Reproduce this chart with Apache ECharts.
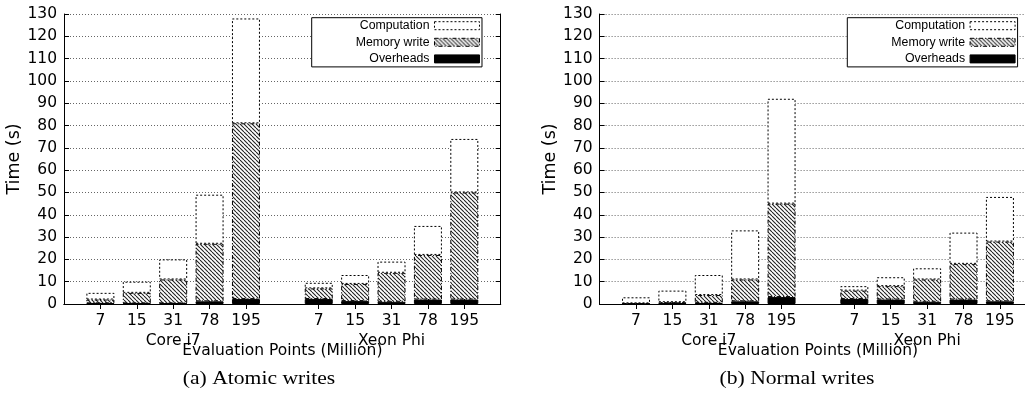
<!DOCTYPE html>
<html><head><meta charset="utf-8">
<script src="https://cdn.jsdelivr.net/npm/echarts@6/dist/echarts.min.js"></script>
<style>html,body{margin:0;padding:0;background:#fff}#c{width:1025px;height:398px}</style>
</head><body><div id="c"></div>
<script>
// ---- data ----
const points = ['7', '15', '31', '78', '195'];
const platforms = ['Core i7', 'Xeon Phi'];
const seriesNames = ['Computation', 'Memory write', 'Overheads'];
const captions = ['(a) Atomic writes', '(b) Normal writes'];
const xAxisTitle = 'Evaluation Points (Million)';
const yAxisTitle = 'Time (s)';
// (a) Atomic writes: segment heights (s)
const atomicCoreOverheads   = [0.3, 0.3, 0.3, 1.2, 2.2];
const atomicCoreMemory      = [1.7, 4.7, 10.7, 25.8, 78.8];
const atomicCoreComputation = [3, 5, 9, 22, 47];
const atomicXeonOverheads   = [2.2, 1.3, 1, 2, 2];
const atomicXeonMemory      = [4.8, 7.7, 13, 20, 48];
const atomicXeonComputation = [2.5, 4, 5, 13, 24];
// (b) Normal writes: segment heights (s)
const normalCoreOverheads   = [0, 0.3, 0.5, 1.2, 3.1];
const normalCoreMemory      = [0.3, 0.5, 3.5, 9.8, 41.9];
const normalCoreComputation = [2.7, 5.2, 9, 22, 47];
const normalXeonOverheads   = [2.2, 2, 1, 2, 1.2];
const normalXeonMemory      = [3.8, 6, 10, 16, 26.8];
const normalXeonComputation = [2, 4, 5, 14, 20];

// ---- build ----
(function () {
const cats = [''].concat(points, [''], points, ['']);
const groupCats = cats.map(() => '');
groupCats[1 + Math.floor(points.length / 2)] = platforms[0];
groupCats[points.length + 2 + Math.floor(points.length / 2)] = platforms[1];
const pad = (a, b) => ['-'].concat(a, ['-'], b, ['-']);

function hatch() {
  const s = 4, c = document.createElement('canvas');
  c.width = s; c.height = s;
  const g = c.getContext('2d');
  g.fillStyle = '#fff'; g.fillRect(0, 0, s, s);
  g.strokeStyle = '#222'; g.lineWidth = 1.1;
  for (let k = -s; k <= s; k += s) { g.beginPath(); g.moveTo(k, 0); g.lineTo(k + s, s); g.stroke(); }
  return { image: c, repeat: 'repeat' };
}
const hatchPattern = hatch();

const FONT = 'DejaVu Sans';
const plotW = 436.7, plotH = 290, plotTop = 14;
const lefts = [64, 599.6];
const tickShow = (i, v) => v !== '';
const styles = {
  'Computation': { color: '#fff', borderColor: '#000', borderWidth: 1, borderType: [2, 2] },
  'Memory write': { color: hatchPattern, borderColor: '#000', borderWidth: 1, borderType: [4, 2, 1, 2] },
  'Overheads': { color: '#000', borderColor: '#000', borderWidth: 1 }
};

const grids = [], xAxes = [], yAxes = [], series = [], legends = [], graphics = [];
const panels = [
  { over: pad(atomicCoreOverheads, atomicXeonOverheads), mem: pad(atomicCoreMemory, atomicXeonMemory), comp: pad(atomicCoreComputation, atomicXeonComputation) },
  { over: pad(normalCoreOverheads, normalXeonOverheads), mem: pad(normalCoreMemory, normalXeonMemory), comp: pad(normalCoreComputation, normalXeonComputation) }
];
panels.forEach((p, gi) => {
  grids.push({ left: lefts[gi], top: plotTop, width: plotW, height: plotH, outerBoundsMode: 'none', containLabel: false });
  const xb = gi * 3;
  xAxes.push({
    gridIndex: gi, type: 'category', position: 'bottom', data: cats, boundaryGap: false,
    axisLine: { lineStyle: { color: '#000', width: 1 } },
    axisTick: { inside: true, length: 5, interval: tickShow, lineStyle: { color: '#000' } },
    axisLabel: { interval: 0, color: '#000', fontFamily: FONT, fontSize: 15.5, margin: 9 },
    name: xAxisTitle, nameLocation: 'middle', nameGap: 39,
    nameTextStyle: { color: '#000', fontFamily: FONT, fontSize: 15.5 }
  });
  xAxes.push({
    gridIndex: gi, type: 'category', position: 'top', data: cats, boundaryGap: false,
    axisLine: { lineStyle: { color: '#000', width: 1 } },
    axisTick: { inside: true, length: 5, interval: tickShow, lineStyle: { color: '#000' } },
    axisLabel: { show: false }
  });
  xAxes.push({
    gridIndex: gi, type: 'category', position: 'bottom', data: groupCats, boundaryGap: false,
    axisLine: { show: false }, axisTick: { show: false },
    axisLabel: { interval: 0, color: '#000', fontFamily: FONT, fontSize: 15.5, margin: 29 }
  });
  yAxes.push({
    gridIndex: gi, type: 'value', position: 'left', min: 0, max: 130, interval: 10,
    axisLine: { show: true, lineStyle: { color: '#000', width: 1 } },
    axisTick: { show: true, inside: true, length: 5, lineStyle: { color: '#000' } },
    axisLabel: { color: '#000', fontFamily: FONT, fontSize: 15.5, margin: 7 },
    splitLine: { show: true, lineStyle: { color: '#666', width: 1, type: [1, 2] } },
    name: yAxisTitle, nameLocation: 'middle', nameRotate: 90, nameGap: 37,
    nameTextStyle: { color: '#000', fontFamily: FONT, fontSize: 17.5 }
  });
  yAxes.push({
    gridIndex: gi, type: 'value', position: 'right', min: 0, max: 130, interval: 10,
    axisLine: { show: true, lineStyle: { color: '#000', width: 1 } },
    axisTick: { show: true, inside: true, length: 5, lineStyle: { color: '#000' } },
    axisLabel: { show: false }, splitLine: { show: false }
  });
  const yb = gi * 2, stack = 'panel' + gi;
  [['Overheads', p.over], ['Memory write', p.mem], ['Computation', p.comp]].forEach(([name, data]) => {
    series.push({
      name, type: 'bar', stack, xAxisIndex: xb, yAxisIndex: yb, barWidth: 28,
      data, itemStyle: styles[name], emphasis: { disabled: true }
    });
  });
  legends.push({
    data: seriesNames.map(n => ({ name: n, icon: 'rect', itemStyle: styles[n] })), orient: 'vertical', align: 'right',
    left: lefts[gi] + 247.7, top: 17.7,
    itemWidth: 45, itemHeight: 8, itemGap: 2.6,
    padding: [1, 2, 1, 44], backgroundColor: '#fff', borderColor: '#000', borderWidth: 1, borderRadius: 0,
    textStyle: { color: '#000', fontFamily: 'Liberation Sans', fontSize: 12.3, lineHeight: 14 },
    selectedMode: false
  });
});
captions.forEach((t, i) => {
  graphics.push({ type: 'text', x: [259, 797][i], y: 379, scaleX: 1.2,
    style: { text: t, font: '18px "Liberation Serif"', fill: '#000', align: 'center', verticalAlign: 'middle' } });
});

const chart = echarts.init(document.getElementById('c'), null, { renderer: 'canvas' });
chart.setOption({
  animation: false,
  backgroundColor: '#fff',
  grid: grids, xAxis: xAxes, yAxis: yAxes, series: series, legend: legends, graphic: graphics
});
})();
</script></body></html>
